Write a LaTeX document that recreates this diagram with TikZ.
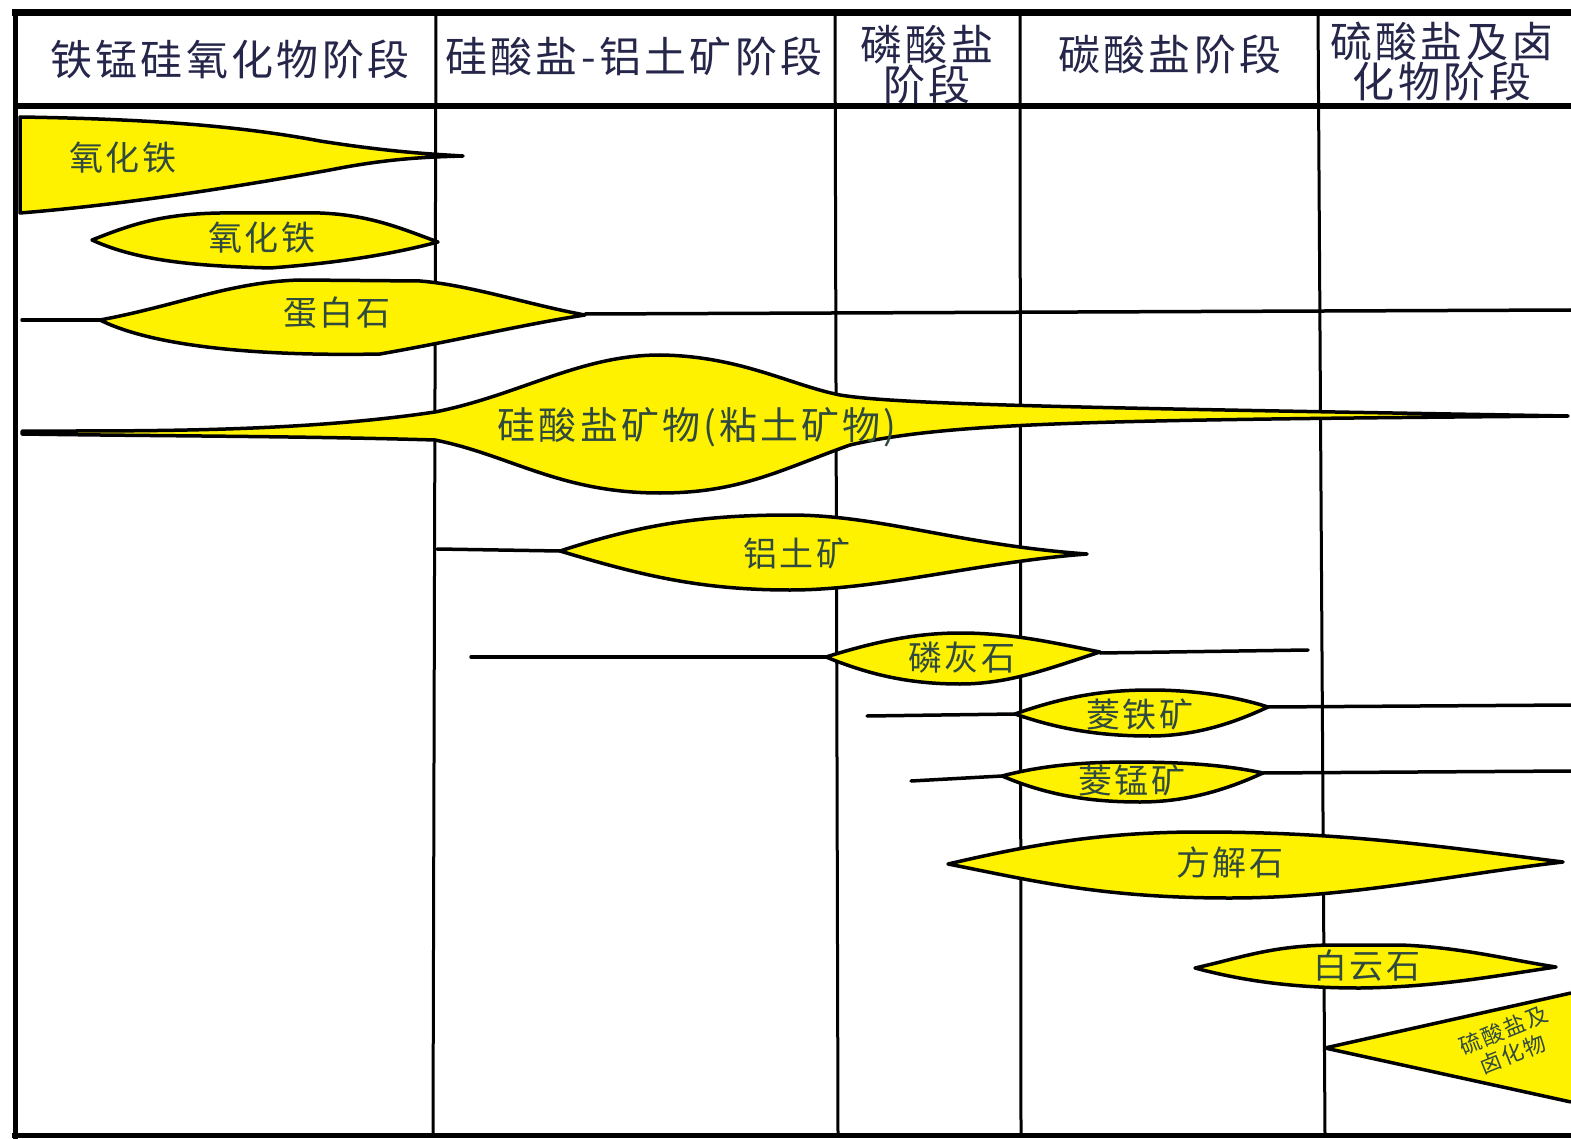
\documentclass[tikz,border=0pt]{standalone}
\usepackage{fontspec}
\newfontfamily\cjk[LetterSpace=8]{Noto Sans CJK SC}
\definecolor{oreY}{RGB}{255,242,0}
\definecolor{hdrC}{RGB}{38,38,74}
\definecolor{lblC}{RGB}{48,74,62}
\begin{document}
\begin{tikzpicture}[x=1pt,y=-1pt,
  gridline/.style={line width=3pt,black},
  lens/.style={fill=oreY,draw=black,line width=3.5pt,line join=round},
  tail/.style={line width=3.5pt,black,line cap=round},
  hdr/.style={font=\cjk\fontsize{42}{40}\selectfont,text=hdrC,align=center,inner sep=0pt},
  lbl/.style={font=\cjk\fontsize{34}{34}\selectfont,text=lblC,inner sep=0pt}]
\useasboundingbox (0,0) rectangle (1571,1139);
\fill[white] (0,0) rectangle (1571,1139);

% frame and grid
\draw[line width=7pt] (12,13) -- (1571,13);
\draw[line width=6pt] (17,106) -- (1571,106);
\draw[line width=5pt] (15,10) -- (15,1139);
\draw[line width=5pt] (12,1135) -- (1571,1135);
\draw[gridline] (436,13) -- (433,1135);
\draw[gridline] (835,13) -- (838,1135);
\draw[gridline] (1020,13) -- (1021,1135);
\draw[gridline] (1318,13) -- (1325,1135);

% headers
\node[hdr] (h1) at (230,60) {铁锰硅氧化物阶段};
\node[hdr] (h2) at (634,57) {硅酸盐-铝土矿阶段};
\node[hdr] (h3) at (927,65) {磷酸盐\\阶段};
\node[hdr] (h4) at (1170,55) {碳酸盐阶段};
\node[hdr] (h5) at (1442,62) {硫酸盐及卤\\化物阶段};

% 1 iron oxide wedge
\filldraw[lens] (20,117) .. controls (150,119) and (240,126) .. (320,141)
  .. controls (390,152) and (430,154) .. (463,156)
  .. controls (430,157) and (390,158) .. (330,170)
  .. controls (230,188) and (120,205) .. (20,213) -- cycle;

% 2 iron oxide lens
\filldraw[lens] (92,240) .. controls (130,225) and (160,214) .. (220,213) -- (320,213)
  .. controls (370,215) and (400,228) .. (438,242)
  .. controls (400,252) and (350,262) .. (270,268)
  .. controls (200,266) and (140,262) .. (92,240) -- cycle;

% 3 opal
\draw[tail] (22,320) -- (100,320);
\draw[tail] (585,314) -- (1571,310);
\filldraw[lens] (100,320) .. controls (180,305) and (230,282) .. (300,280) -- (420,281)
  .. controls (470,285) and (530,305) .. (585,315)
  .. controls (520,325) and (460,340) .. (380,354)
  .. controls (280,356) and (160,350) .. (100,320) -- cycle;

% 4 silicate minerals
\filldraw[lens] (22,431) .. controls (150,431) and (300,432) .. (435,412)
  .. controls (520,395) and (580,355) .. (660,355)
  .. controls (740,356) and (790,385) .. (840,395)
  .. controls (900,405) and (1100,408) .. (1568,416)
  .. controls (1100,420) and (950,422) .. (850,445)
  .. controls (780,470) and (740,493) .. (660,493)
  .. controls (560,493) and (510,455) .. (435,440)
  .. controls (300,436) and (150,436) .. (22,434) -- cycle;

% 5 bauxite
\draw[tail] (437,549) -- (560,551);
\filldraw[lens] (560,551) .. controls (640,525) and (700,515) .. (790,515)
  .. controls (880,515) and (960,545) .. (1087,554)
  .. controls (980,562) and (880,590) .. (790,590)
  .. controls (700,590) and (640,575) .. (560,551) -- cycle;

% 6 apatite
\draw[tail] (471,657) -- (826,657);
\draw[tail] (1100,653) -- (1308,650);
\filldraw[lens] (826,657) .. controls (880,640) and (920,633) .. (960,633)
  .. controls (1010,633) and (1050,642) .. (1100,652)
  .. controls (1050,668) and (1010,684) .. (960,684)
  .. controls (910,684) and (870,675) .. (826,657) -- cycle;

% 7 siderite
\draw[tail] (867,716) -- (1015,714);
\draw[tail] (1268,707) -- (1571,705);
\filldraw[lens] (1015,714) .. controls (1060,698) and (1100,690) .. (1150,690)
  .. controls (1200,690) and (1240,698) .. (1268,707)
  .. controls (1240,720) and (1200,736) .. (1150,736)
  .. controls (1090,736) and (1050,726) .. (1015,714) -- cycle;

% 8 rhodochrosite
\draw[tail] (911,781) -- (1002,776);
\draw[tail] (1263,773) -- (1571,771);
\filldraw[lens] (1002,776) .. controls (1040,766) and (1080,762) .. (1130,762)
  .. controls (1190,762) and (1230,766) .. (1263,773)
  .. controls (1230,788) and (1190,802) .. (1140,802)
  .. controls (1080,802) and (1040,792) .. (1002,776) -- cycle;

% 9 calcite
\filldraw[lens] (948,864) .. controls (1030,845) and (1100,832) .. (1200,832)
  .. controls (1350,832) and (1450,848) .. (1563,862)
  .. controls (1450,875) and (1350,898) .. (1230,898)
  .. controls (1100,898) and (1030,880) .. (948,864) -- cycle;

% 10 dolomite
\filldraw[lens] (1195,968) .. controls (1240,958) and (1270,946) .. (1330,945) -- (1400,945)
  .. controls (1460,947) and (1510,960) .. (1556,967)
  .. controls (1500,975) and (1440,987) .. (1360,988)
  .. controls (1290,988) and (1240,980) .. (1195,968) -- cycle;

% 11 sulfate & halide
\fill[oreY] (1325,1048) -- (1571,993) -- (1571,1102) -- cycle;
\draw[line width=3.5pt,line join=round] (1571,993) -- (1325,1048) -- (1571,1102);

% labels
\node[lbl] (l1) at (123,158) {氧化铁};
\node[lbl] (l2) at (262,238) {氧化铁};
\node[lbl] (l3) at (337,313) {蛋白石};
\node[lbl,font=\cjk\fontsize{38}{38}\selectfont] (l4) at (697,427) {硅酸盐矿物(粘土矿物)};
\node[lbl] (l5) at (797,553) {铝土矿};
\node[lbl] (l6) at (962,658) {磷灰石};
\node[lbl] (l7) at (1140,714) {菱铁矿};
\node[lbl] (l8) at (1132,780) {菱锰矿};
\node[lbl] (l9) at (1230,863) {方解石};
\node[lbl] (l10) at (1367,966) {白云石};
\node[lbl,font=\cjk\fontsize{22}{26}\selectfont,rotate=22,align=center] (l11) at (1508,1042) {硫酸盐及\\卤化物};
\end{tikzpicture}
\end{document}
